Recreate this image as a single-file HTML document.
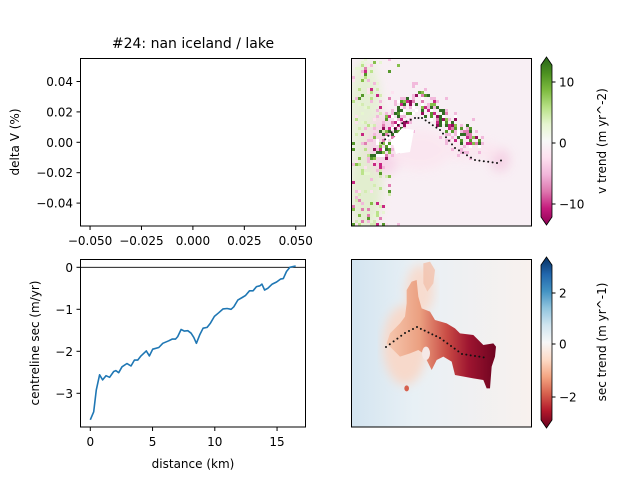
<!DOCTYPE html>
<html><head><meta charset="utf-8">
<style>
body{margin:0;background:#fff;}
svg text{font-family:"DejaVu Sans","Liberation Sans",sans-serif;fill:#000;}
</style></head>
<body>
<svg id="fig" width="640" height="480" viewBox="0 0 640 480" xmlns="http://www.w3.org/2000/svg">
<defs>
<linearGradient id="piyg" x1="0" y1="0" x2="0" y2="1">
<stop offset="0" stop-color="#276419"/><stop offset="0.1" stop-color="#4d9221"/><stop offset="0.2" stop-color="#7fbc41"/><stop offset="0.3" stop-color="#b8e186"/><stop offset="0.4" stop-color="#e6f5d0"/><stop offset="0.5" stop-color="#f7f7f7"/><stop offset="0.6" stop-color="#fde0ef"/><stop offset="0.7" stop-color="#f1b6da"/><stop offset="0.8" stop-color="#de77ae"/><stop offset="0.9" stop-color="#c51b7d"/><stop offset="1" stop-color="#8e0152"/>
</linearGradient>
<linearGradient id="rdbu" x1="0" y1="0" x2="0" y2="1">
<stop offset="0" stop-color="#053061"/><stop offset="0.1" stop-color="#2166ac"/><stop offset="0.2" stop-color="#4393c3"/><stop offset="0.3" stop-color="#92c5de"/><stop offset="0.4" stop-color="#d1e5f0"/><stop offset="0.5" stop-color="#f7f7f7"/><stop offset="0.6" stop-color="#fddbc7"/><stop offset="0.7" stop-color="#f4a582"/><stop offset="0.8" stop-color="#d6604d"/><stop offset="0.9" stop-color="#b2182b"/><stop offset="1" stop-color="#67001f"/>
</linearGradient>
<linearGradient id="bgsec" x1="0" y1="0" x2="1" y2="0">
<stop offset="0" stop-color="#d3e4f0"/><stop offset="0.35" stop-color="#e8f0f5"/><stop offset="1" stop-color="#f8f1ee"/>
</linearGradient>
<linearGradient id="glac" x1="0" y1="0" x2="1" y2="0">
<stop offset="0" stop-color="#f6c8b0"/><stop offset="0.3" stop-color="#eba081"/><stop offset="0.55" stop-color="#c94c45"/><stop offset="0.75" stop-color="#9e1530"/><stop offset="1" stop-color="#6e0320"/>
</linearGradient>
<filter id="blur1"><feGaussianBlur stdDeviation="2"/></filter>
<filter id="blur4"><feGaussianBlur stdDeviation="5"/></filter>
<clipPath id="clipTR"><rect x="351" y="58" width="180" height="168"/></clipPath>
<clipPath id="clipBR"><rect x="351" y="259" width="180" height="168"/></clipPath>
</defs>

<text x="193" y="48" font-size="14" text-anchor="middle">#24: nan iceland / lake</text>
<g id="tl"></g>
<rect x="80.5" y="58.5" width="225" height="167.5" fill="none" stroke="#000" stroke-width="1"/>
<text transform="translate(19,142) rotate(-90)" font-size="12" text-anchor="middle">delta V (%)</text>

<g id="bl"></g>
<rect x="80.5" y="259.5" width="225" height="167.5" fill="none" stroke="#000" stroke-width="1"/>
<text transform="translate(39,343) rotate(-90)" font-size="12" text-anchor="middle">centreline sec (m/yr)</text>
<text x="193" y="468" font-size="12" text-anchor="middle">distance (km)</text>

<g clip-path="url(#clipTR)">
<rect x="351" y="58" width="180" height="168" fill="#f8eff4"/>
<g filter="url(#blur4)" opacity="0.9">
<ellipse cx="365" cy="110" rx="16" ry="50" fill="#e4f0d2"/>
<ellipse cx="366" cy="185" rx="16" ry="45" fill="#e0eecb"/>
<ellipse cx="385" cy="145" rx="18" ry="30" fill="#f6d3e7"/>
<ellipse cx="500" cy="160" rx="10" ry="12" fill="#f5d0e4"/>
<ellipse cx="470" cy="150" rx="30" ry="10" fill="#fbe6f0"/>
<ellipse cx="420" cy="150" rx="30" ry="20" fill="#fbe6f0"/>
</g>
<g id="trnoise"></g>
</g>
<g id="trdots"></g>
<rect x="351.5" y="58.5" width="180" height="167.5" fill="none" stroke="#000" stroke-width="1"/>

<g clip-path="url(#clipBR)">
<rect x="351" y="259" width="180" height="168" fill="url(#bgsec)"/>
<g filter="url(#blur4)">
<ellipse cx="405" cy="345" rx="22" ry="40" fill="#f7d9cb"/>
<ellipse cx="420" cy="290" rx="14" ry="25" fill="#f7dccf"/>
</g>
<g transform="translate(340,250) scale(0.33333)">
<polygon points="200,120 215,95 230,90 235,140 245,175 270,185 285,210 320,220 345,235 360,250 400,255 430,285 460,280 468,290 465,320 455,350 450,415 440,415 430,390 400,385 345,375 335,335 310,320 290,330 275,360 265,340 250,310 235,300 210,310 180,320 160,300 140,280 150,250 180,220 195,200 200,160" fill="url(#glac)"/>
<ellipse cx="258" cy="310" rx="12" ry="20" fill="#f5e8e6"/>
<polygon points="250,40 270,35 285,60 280,100 262,125 250,100" fill="#f3c2ad" opacity="0.8"/>
<ellipse cx="200" cy="415" rx="7" ry="9" fill="#d6604d"/>
</g>
</g>
<g id="brdots"></g>
<rect x="351.5" y="259.5" width="180" height="167.5" fill="none" stroke="#000" stroke-width="1"/>

<g>
<polygon points="546.5,57 552,65 552,217 546.5,225 541,217 541,65" fill="url(#piyg)" stroke="#000" stroke-width="0.8"/>
<line x1="552" y1="82" x2="555.5" y2="82" stroke="#000"/><text x="559" y="86.5" font-size="12">10</text>
<line x1="552" y1="143" x2="555.5" y2="143" stroke="#000"/><text x="559" y="147.5" font-size="12">0</text>
<line x1="552" y1="204" x2="555.5" y2="204" stroke="#000"/><text x="559" y="208.5" font-size="12">−10</text>
<text transform="translate(606,141) rotate(-90)" font-size="12" text-anchor="middle">v trend (m yr^-2)</text>
</g>
<g>
<polygon points="546.5,257 552,265 552,420 546.5,428 541,420 541,265" fill="url(#rdbu)" stroke="#000" stroke-width="0.8"/>
<line x1="552" y1="293" x2="555.5" y2="293" stroke="#000"/><text x="559" y="297.5" font-size="12">2</text>
<line x1="552" y1="344" x2="555.5" y2="344" stroke="#000"/><text x="559" y="348.5" font-size="12">0</text>
<line x1="552" y1="397" x2="555.5" y2="397" stroke="#000"/><text x="559" y="401.5" font-size="12">−2</text>
<text transform="translate(606,342) rotate(-90)" font-size="12" text-anchor="middle">sec trend (m yr^-1)</text>
</g>
</svg>
<script>
const tlYTicks = [0.04, 0.02, 0.00, -0.02, -0.04];
const tlYLabels = ["0.04", "0.02", "0.00", "−0.02", "−0.04"];
const tlXTicks = [-0.05, -0.025, 0, 0.025, 0.05];
const tlXLabels = ["−0.050", "−0.025", "0.000", "0.025", "0.050"];
const distKm = [0,0.27,0.48,0.75,0.99,1.26,1.55,1.88,2.06,2.28,2.55,2.95,3.27,3.54,3.81,4.07,4.5,4.75,5.01,5.5,5.82,6.3,6.57,6.84,7.02,7.29,7.56,7.83,8.1,8.31,8.52,8.79,9.06,9.38,9.65,9.97,10.32,10.67,10.99,11.31,11.53,11.85,12.2,12.47,12.79,13.08,13.35,13.62,13.78,14.0,14.26,14.61,14.96,15.28,15.5,15.76,16.03,16.3,16.5];
const secVals = [-3.63,-3.44,-2.92,-2.56,-2.68,-2.58,-2.62,-2.48,-2.46,-2.51,-2.37,-2.29,-2.35,-2.21,-2.21,-2.11,-1.99,-2.11,-1.95,-1.91,-1.81,-1.75,-1.71,-1.71,-1.65,-1.48,-1.52,-1.51,-1.57,-1.67,-1.81,-1.61,-1.45,-1.43,-1.33,-1.17,-1.08,-0.99,-0.98,-1.0,-0.94,-0.78,-0.72,-0.67,-0.56,-0.56,-0.46,-0.44,-0.40,-0.54,-0.50,-0.40,-0.35,-0.28,-0.27,-0.10,0.0,0.02,0.03];
const blXTicks = [0, 5, 10, 15];
const blYTicks = [0, -1, -2, -3];
const blYLabels = ["0", "−1", "−2", "−3"];

const NS = "http://www.w3.org/2000/svg";
function mk(tag, attrs, parent){const e=document.createElementNS(NS,tag);for(const k in attrs)e.setAttribute(k,attrs[k]);parent.appendChild(e);return e;}

const tlX = v => 192.9 + v*2057;
const tlY = v => 142.3 - v*1520;
const tl = document.getElementById('tl');
tlYTicks.forEach((v,i)=>{
  const y=tlY(v);
  const l=mk('line',{x1:76.5,x2:80.5,y1:y,y2:y,stroke:'#000'},tl);
  
  
  const t=mk('text',{x:73,y:y+4.5,'font-size':12,'text-anchor':'end'},tl);
  t.textContent=tlYLabels[i];
  
  
});
tlXTicks.forEach((v,i)=>{
  const x=tlX(v);
  const l=mk('line',{x1:x,x2:x,y1:226,y2:230,stroke:'#000'},tl);
  
  
  const t=mk('text',{x:x,y:245,'font-size':12,'text-anchor':'middle'},tl);
  t.textContent=tlXLabels[i];
  
  
});

const blX = v => 90.3 + v*12.45;
const blY = v => 267.3 - v*42;
const bl = document.getElementById('bl');
blYTicks.forEach((v,i)=>{
  const y=blY(v);
  const l=mk('line',{x1:76.5,x2:80.5,y1:y,y2:y,stroke:'#000'},bl);
  
  
  const t=mk('text',{x:73,y:y+4.5,'font-size':12,'text-anchor':'end'},bl);
  t.textContent=blYLabels[i];
  
  
});
blXTicks.forEach(v=>{
  const x=blX(v);
  const l=mk('line',{x1:x,x2:x,y1:427,y2:431,stroke:'#000'},bl);
  
  
  const t=mk('text',{x:x,y:446,'font-size':12,'text-anchor':'middle'},bl);
  t.textContent=String(v);
  
  
});
const zl=mk('line',{x1:80.5,x2:305.5,y1:blY(0),y2:blY(0),stroke:'#000','stroke-width':0.8},bl);


const pts=distKm.map((d,i)=>blX(d).toFixed(1)+','+blY(secVals[i]).toFixed(1)).join(' ');
const pl=mk('polyline',{points:pts,fill:'none',stroke:'#1f77b4','stroke-width':1.6,'stroke-linejoin':'round'},bl);



// decorative seeded texture for velocity map
let seed=12345;
function rnd(){seed=(seed*1103515245+12345)%2147483648;return seed/2147483648;}
const noise=document.getElementById('trnoise');
const band=[[378,150],[392,125],[405,105],[420,100],[440,115],[458,130],[470,140]];
function bandDist(x,y){let m=1e9;for(let i=0;i<band.length-1;i++){const [x0,y0]=band[i],[x1,y1]=band[i+1];const dx=x1-x0,dy=y1-y0;let t=((x-x0)*dx+(y-y0)*dy)/(dx*dx+dy*dy);t=Math.max(0,Math.min(1,t));m=Math.min(m,Math.hypot(x-x0-t*dx,y-y0-t*dy));}return m;}
const satCols=['#276419','#276419','#4d9221','#8e0152','#c51b7d','#ffffff','#ffffff','#7fbc41','#de77ae'];
const leftSat=['#7fbc41','#4d9221','#c51b7d','#de77ae'];
const leftLight=['#b8e186','#e6f5d0','#f1b6da','#fde0ef','#d3ebb0'];
for(let x=352;x<530;x+=3){
  for(let y=58;y<226;y+=3){
    let c=null;
    const d=bandDist(x,y);
    const lf=Math.max(0,(400-x)/48);
    if(d<10 && rnd()<0.55) c=satCols[Math.floor(rnd()*satCols.length)];
    else if(rnd()<0.09*lf) c=leftSat[Math.floor(rnd()*leftSat.length)];
    else if(rnd()<0.22*lf) c=leftLight[Math.floor(rnd()*leftLight.length)];
    else if(d<20 && rnd()<0.12) c='#f1b6da';
    if(c){mk('rect',{x:x,y:y,width:3,height:3,fill:c,opacity:0.95},noise);}
  }
}
mk('polygon',{points:'392,140 402,128 414,130 410,152 396,154',fill:'#ffffff'},noise);

function dots(gid, pathPts, step){
  const g=document.getElementById(gid);
  for(let s=0;s<pathPts.length-1;s++){
    const [x0,y0]=pathPts[s],[x1,y1]=pathPts[s+1];
    const len=Math.hypot(x1-x0,y1-y0),n=Math.max(1,Math.round(len/step));
    for(let k=0;k<n;k++){
      const c=mk('circle',{cx:x0+(x1-x0)*k/n,cy:y0+(y1-y0)*k/n,r:1,fill:'#111'},g);
      
      
    }
  }
}
dots('trdots',[[382,143],[398,125],[415,118],[422,118],[440,130],[455,148],[475,160],[497,163],[505,158]],4.6);
dots('brdots',[[386,347],[405,333],[417,327],[440,338],[462,354],[488,358]],4.6);
</script>
</body></html>
